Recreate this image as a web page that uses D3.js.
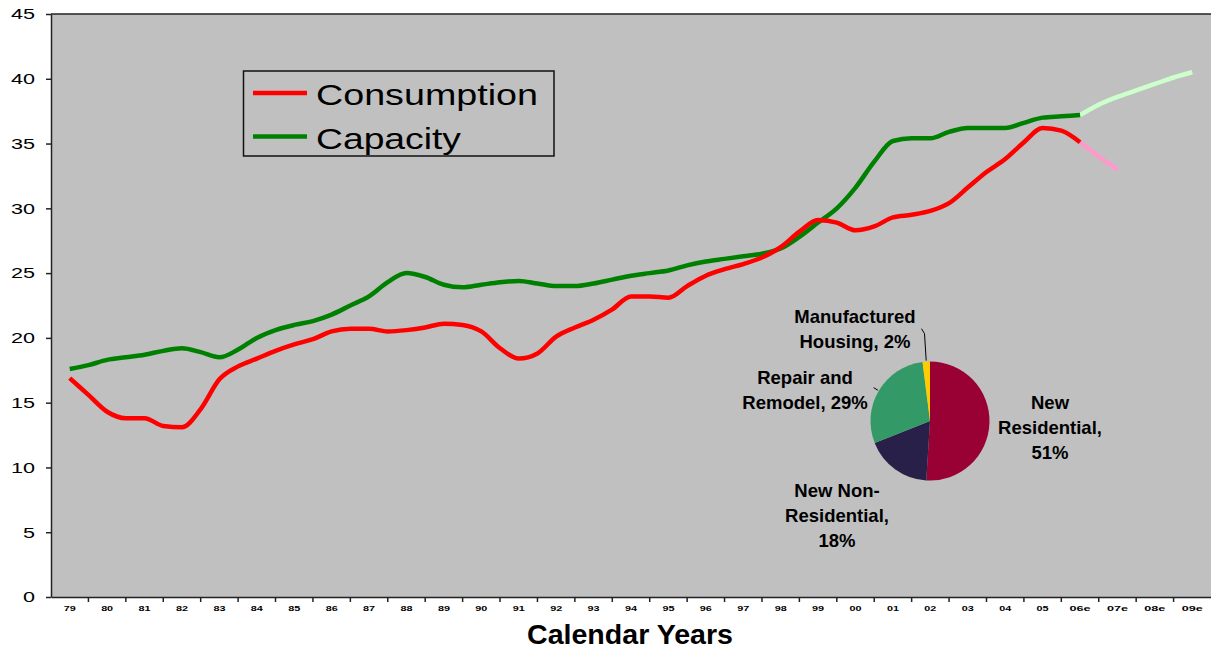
<!DOCTYPE html>
<html lang="en">
<head>
  <meta charset="utf-8">
  <title>Consumption vs. Capacity</title>
  <script src="https://d3js.org/d3.v7.min.js"></script>
  <style>
    html, body {
      margin: 0;
      padding: 0;
      background: #fff;
    }
    svg {
      display: block;
      font-family: "Liberation Sans", Arial, sans-serif;
    }
    .yAxis text {
      font-size: 15px;
      fill: #000;
    }
    .xAxis text {
      font-size: 8px;
      font-weight: bold;
      fill: #000;
    }
    .yAxis path, .yAxis line, .xAxis path, .xTick {
      stroke: #222;
      stroke-width: 1.5px;
    }
    .pieLabel {
      font-size: 18.5px;
      font-weight: bold;
      fill: #000;
    }
  </style>
</head>
<body>
  <div id="chart"></div>

  <script>
    // category axis
    var years = ['79', '80', '81', '82', '83', '84', '85', '86', '87', '88', '89', '90', '91', '92', '93',
                 '94', '95', '96', '97', '98', '99', '00', '01', '02', '03', '04', '05', '06e', '07e', '08e', '09e'];
    var yTicks = [0, 5, 10, 15, 20, 25, 30, 35, 40, 45];

    // half-year readings, starting at '79 (step 0.5 of a category)
    var consumption = [16.9, 15.6, 14.3, 13.8, 13.8, 13.2, 13.1, 14.5, 16.8, 17.8,
                       18.4, 19.0, 19.5, 19.9, 20.5, 20.7, 20.7, 20.5, 20.6, 20.8,
                       21.1, 21.0, 20.5, 19.2, 18.4, 18.8, 20.1, 20.8, 21.4, 22.2,
                       23.2, 23.2, 23.1, 24.0, 24.8, 25.3, 25.7, 26.2, 27.0, 28.2,
                       29.1, 28.9, 28.3, 28.6, 29.3, 29.5, 29.8, 30.4, 31.6, 32.8,
                       33.8, 35.1, 36.2, 36.0, 35.1];
    var capacity = [17.6, 17.9, 18.3, 18.5, 18.7, 19.0, 19.2, 18.9, 18.5, 19.1,
                    20.0, 20.6, 21.0, 21.3, 21.8, 22.5, 23.2, 24.3, 25.0, 24.7,
                    24.1, 23.9, 24.1, 24.3, 24.4, 24.2, 24.0, 24.0, 24.2, 24.5,
                    24.8, 25.0, 25.2, 25.6, 25.9, 26.1, 26.3, 26.5, 26.9, 27.8,
                    28.9, 30.0, 31.6, 33.6, 35.2, 35.4, 35.4, 35.9, 36.2, 36.2,
                    36.2, 36.6, 37.0, 37.1, 37.2];
    // estimates, starting at '06e (step 0.5)
    var consumptionForecast = [35.1, 34.0, 33.0];
    var capacityForecast = [37.2, 38.0, 38.6, 39.1, 39.6, 40.1, 40.5];

    // market share pie
    var pieNames = [['New', 'Residential,', '51%'],
                    ['New Non-', 'Residential,', '18%'],
                    ['Repair and', 'Remodel, 29%'],
                    ['Manufactured', 'Housing, 2%']];
    var pieValues = [51, 18, 29, 2];
    var pieColors = ['#990033', '#282048', '#339966', '#ffcc00'];

    var W = 1211, H = 651;
    var plot = { left: 51, right: 1211, top: 14, bottom: 597 };
    var pieCenter = [930, 421], pieRadius = 59.5;
    var labelOffsets = [[120, -12], [-93, 76], [-125, -37], [-75, -98]];

    var svg = d3.select('#chart').append('svg')
      .attr('width', W)
      .attr('height', H);

    var xScale = d3.scaleBand()
      .domain(years)
      .range([plot.left, plot.right])
      .padding(0);

    var yScale = d3.scaleLinear()
      .domain([0, 45])
      .range([plot.bottom, plot.top]);

    var xPos = function(t) { return xScale(years[0]) + xScale.step() * (t + 0.5); };

    // plot background
    svg.append('rect')
      .attr('x', plot.left)
      .attr('y', plot.top)
      .attr('width', plot.right - plot.left)
      .attr('height', plot.bottom - plot.top)
      .attr('fill', '#c0c0c0');

    svg.append('line')
      .attr('class', 'xTick')
      .attr('x1', plot.left).attr('x2', plot.right)
      .attr('y1', plot.top).attr('y2', plot.top);

    // y axis
    var yAxis = svg.append('g')
      .attr('class', 'yAxis')
      .attr('transform', 'translate(' + plot.left + ',0)')
      .call(d3.axisLeft(yScale).tickValues(yTicks).tickSize(5).tickSizeOuter(0).tickPadding(11));

    yAxis.selectAll('text')
      .attr('textLength', function(d) { return String(d).length * 12; })
      .attr('lengthAdjust', 'spacingAndGlyphs');

    // x axis: labels in the middle of each category, ticks on the boundaries
    var xAxis = svg.append('g')
      .attr('class', 'xAxis')
      .attr('transform', 'translate(0,' + plot.bottom + ')')
      .call(d3.axisBottom(xScale).tickSize(0).tickSizeOuter(0).tickPadding(8));

    xAxis.selectAll('text')
      .attr('textLength', function(d) { return d.length == 2 ? 12 : 21; })
      .attr('lengthAdjust', 'spacingAndGlyphs');

    svg.selectAll('.xTick.bound')
      .data(years.slice(1))
      .enter()
      .append('line')
      .attr('class', 'xTick bound')
      .attr('x1', function(d) { return xScale(d); })
      .attr('x2', function(d) { return xScale(d); })
      .attr('y1', plot.bottom)
      .attr('y2', plot.bottom + 5);

    svg.append('text')
      .attr('x', 630)
      .attr('y', 644)
      .attr('text-anchor', 'middle')
      .attr('font-size', 27)
      .attr('font-weight', 'bold')
      .attr('textLength', 206)
      .attr('lengthAdjust', 'spacingAndGlyphs')
      .text('Calendar Years');

    // lines
    var line = function(start) {
      return d3.line()
        .x(function(d, i) { return xPos(start + i * 0.5); })
        .y(function(d) { return yScale(d); })
        .curve(d3.curveMonotoneX);
    };

    var series = [
      { values: capacityForecast, start: 27, color: '#ccffcc' },
      { values: consumptionForecast, start: 27, color: '#ff99cc' },
      { values: capacity, start: 0, color: '#008000' },
      { values: consumption, start: 0, color: '#ff0000' }
    ];

    svg.selectAll('.series')
      .data(series)
      .enter()
      .append('path')
      .attr('class', 'series')
      .attr('fill', 'none')
      .attr('stroke', function(d) { return d.color; })
      .attr('stroke-width', 4.5)
      .attr('stroke-linejoin', 'round')
      .attr('d', function(d) { return line(d.start)(d.values); });

    // legend
    var legend = svg.append('g');
    legend.append('rect')
      .attr('x', 243.5).attr('y', 71)
      .attr('width', 310.5).attr('height', 85)
      .attr('fill', '#c0c0c0')
      .attr('stroke', '#111')
      .attr('stroke-width', 1.5);

    var legendItems = [
      { name: 'Consumption', color: '#ff0000', width: 222 },
      { name: 'Capacity', color: '#008000', width: 145 }
    ];

    legendItems.forEach(function(item, i) {
      var cy = 93 + i * 43.5;
      legend.append('line')
        .attr('x1', 253).attr('x2', 307)
        .attr('y1', cy).attr('y2', cy)
        .attr('stroke', item.color)
        .attr('stroke-width', 4.5);
      legend.append('text')
        .attr('x', 316)
        .attr('y', cy + 12)
        .attr('font-size', 29)
        .attr('textLength', item.width)
        .attr('lengthAdjust', 'spacingAndGlyphs')
        .text(item.name);
    });

    // pie
    var pie = d3.pie().sort(null)(pieValues);
    var arc = d3.arc().innerRadius(0).outerRadius(pieRadius);
    var pieG = svg.append('g')
      .attr('transform', 'translate(' + pieCenter[0] + ',' + pieCenter[1] + ')');

    pieG.selectAll('path')
      .data(pie)
      .enter()
      .append('path')
      .attr('d', arc)
      .attr('fill', function(d, i) { return pieColors[i]; });

    var polar = function(a, r) { return [Math.sin(a) * r, -Math.cos(a) * r]; };
    var mid = function(d) { return (d.startAngle + d.endAngle) / 2; };

    // leader lines for the two small labels
    var p1 = polar(mid(pie[3]), pieRadius + 1);
    var p2 = polar(mid(pie[3]), pieRadius + 28);
    pieG.append('polyline')
      .attr('points', [p1, p2, [p2[0] - 3, p2[1] - 5]].map(function(p) { return p.join(','); }).join(' '))
      .attr('fill', 'none')
      .attr('stroke', '#000')
      .attr('stroke-width', 1);

    var q1 = polar(mid(pie[2]), pieRadius + 1);
    var q2 = polar(mid(pie[2]), pieRadius + 6);
    pieG.append('line')
      .attr('x1', q1[0]).attr('y1', q1[1])
      .attr('x2', q2[0]).attr('y2', q2[1])
      .attr('stroke', '#000')
      .attr('stroke-width', 1);

    pieG.selectAll('.pieLabel')
      .data(pie)
      .enter()
      .append('text')
      .attr('class', 'pieLabel')
      .attr('text-anchor', 'middle')
      .attr('transform', function(d, i) { return 'translate(' + labelOffsets[i][0] + ',' + labelOffsets[i][1] + ')'; })
      .selectAll('tspan')
      .data(function(d, i) { return pieNames[i]; })
      .enter()
      .append('tspan')
      .attr('x', 0)
      .attr('y', function(d, i) { return i * 25; })
      .text(function(d) { return d; });
  </script>
</body>
</html>
